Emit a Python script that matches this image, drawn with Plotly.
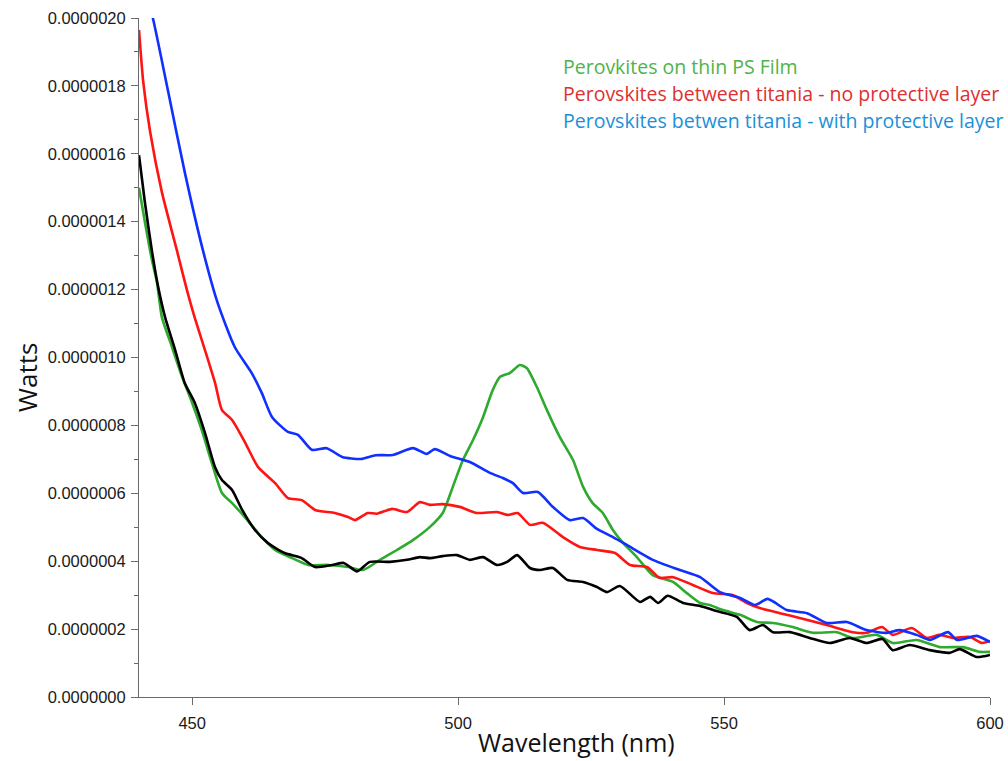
import plotly.graph_objects as go

# Spectral power, values in units of 1e-7 W
SCALE = 1e-7

green_nm = [440, 441.1, 442.4, 443.4, 444.3, 446.2, 448.1, 450.0, 451.8, 453.7, 455.6, 457.5,
            459.9, 462.4, 465.6, 468.8, 471.8, 475.5, 479.3, 482.1, 485.3, 488.5, 491.5, 494.7,
            497.1, 499.0, 500.9, 502.8, 504.7, 506.5, 507.9, 509.7, 511.6, 512.9, 514.8, 516.7,
            519.1, 521.6, 523.5, 525.3, 527.2, 529.1, 531.0, 533.6, 536.6, 540.4, 543.0, 545.5,
            547.3, 549.8, 553.0, 556.2, 559.2, 562.9, 566.7, 571.2, 574.2, 578.7, 581.7, 586.2,
            590.6, 594.9, 598.1, 600]
green_w = [15.0, 14.0, 12.9, 12.19, 11.19, 10.31, 9.43, 8.66, 7.86, 6.89, 6.01, 5.71,
           5.30, 4.83, 4.33, 4.09, 3.89, 3.89, 3.83, 3.74, 4.04, 4.33, 4.62, 5.01,
           5.42, 6.19, 6.98, 7.57, 8.25, 9.04, 9.43, 9.54, 9.78, 9.69, 9.13, 8.45,
           7.66, 6.98, 6.19, 5.71, 5.42, 4.92, 4.54, 4.12, 3.59, 3.39, 3.06, 2.77,
           2.71, 2.56, 2.42, 2.21, 2.18, 2.06, 1.89, 1.91, 1.74, 1.83, 1.59, 1.68,
           1.47, 1.47, 1.33, 1.33]

red_nm = [440, 440.8, 442.1, 444.3, 447.1, 449.0, 450.5, 452.4, 454.3, 455.6, 457.5, 459.9,
          462.4, 465.6, 468.0, 470.6, 473.1, 476.8, 479.3, 480.6, 483.0, 484.7, 487.6, 490.4,
          492.8, 494.7, 497.1, 500.3, 503.5, 507.3, 509.4, 511.2, 513.5, 515.9, 519.7, 522.9,
          526.1, 529.5, 532.3, 535.5, 537.9, 540.4, 544.1, 547.9, 551.7, 554.3, 556.7, 560.5,
          564.2, 569.3, 574.2, 576.8, 579.7, 581.7, 585.3, 588.1, 590.6, 593.0, 596.2, 598.5, 600]
red_w = [19.65, 18.11, 16.64, 14.87, 13.17, 11.99, 11.16, 10.22, 9.25, 8.45, 8.16, 7.51,
         6.77, 6.30, 5.86, 5.80, 5.51, 5.42, 5.30, 5.21, 5.42, 5.40, 5.54, 5.45,
         5.74, 5.66, 5.68, 5.60, 5.42, 5.45, 5.36, 5.42, 5.07, 5.13, 4.71, 4.42,
         4.33, 4.24, 3.89, 3.83, 3.51, 3.53, 3.30, 3.06, 3.00, 2.77, 2.62, 2.47,
         2.33, 2.12, 1.91, 1.89, 2.06, 1.83, 2.03, 1.74, 1.83, 1.74, 1.77, 1.59, 1.65]

blue_nm = [442.0, 442.6, 445.5, 448.6, 452.0, 454.8, 458.0, 461.2, 463.1, 465.0, 468.0, 469.9,
           472.5, 475.3, 478.2, 481.7, 484.5, 487.7, 491.5, 494.1, 495.6, 498.5, 502.2, 506.0,
           508.4, 510.3, 512.2, 515.0, 517.8, 521.0, 523.5, 526.1, 529.1, 531.7, 536.6, 541.7,
           545.5, 549.2, 553.0, 555.8, 558.2, 561.8, 565.6, 569.3, 573.1, 576.8, 580.6, 583.0,
           586.2, 588.7, 592.1, 593.8, 597.5, 600]
blue_w = [20.3, 20.0, 17.82, 15.46, 13.17, 11.6, 10.31, 9.54, 8.95, 8.25, 7.81, 7.72,
          7.28, 7.33, 7.07, 7.01, 7.12, 7.13, 7.33, 7.16, 7.30, 7.10, 6.92, 6.60,
          6.45, 6.30, 6.01, 6.04, 5.60, 5.21, 5.27, 4.95, 4.71, 4.48, 4.04, 3.74,
          3.53, 3.09, 2.92, 2.71, 2.89, 2.56, 2.47, 2.18, 2.21, 1.97, 1.89, 1.97,
          1.83, 1.68, 1.91, 1.68, 1.80, 1.62]

black_nm = [440, 441.1, 442.4, 443.6, 444.9, 446.8, 448.6, 450.5, 452.4, 454.3, 455.6, 457.5,
            459.4, 461.8, 464.2, 467.4, 470.6, 473.1, 476.3, 478.5, 481.0, 483.4, 487.2, 490.4,
            492.8, 494.7, 497.1, 499.8, 502.2, 504.7, 507.3, 509.2, 511.1, 513.5, 515.4, 517.8,
            520.5, 523.5, 526.1, 528.0, 530.4, 534.2, 536.1, 537.6, 539.4, 542.3, 545.5, 548.6,
            552.4, 554.8, 557.3, 559.2, 562.4, 566.1, 569.9, 573.6, 576.8, 579.8, 581.7, 584.9,
            588.7, 592.4, 594.3, 597.5, 600]
black_w = [15.96, 14.58, 13.17, 12.08, 11.19, 10.22, 9.25, 8.66, 7.78, 6.77, 6.39, 6.10,
           5.51, 4.92, 4.54, 4.24, 4.09, 3.83, 3.89, 3.95, 3.70, 3.98, 3.98, 4.04,
           4.12, 4.09, 4.15, 4.18, 4.04, 4.12, 3.89, 3.98, 4.18, 3.80, 3.74, 3.80,
           3.45, 3.39, 3.24, 3.09, 3.27, 2.80, 2.95, 2.77, 2.98, 2.77, 2.68, 2.53,
           2.36, 1.97, 2.12, 1.91, 1.91, 1.74, 1.59, 1.74, 1.59, 1.71, 1.38, 1.53,
           1.38, 1.30, 1.41, 1.18, 1.24]

y_ticks = [i * 2e-7 for i in range(11)]
x_ticks = [450, 500, 550, 600]

legend_lines = [
    ("Perovkites on thin PS Film", "#4fb34a"),
    ("Perovskites between titania - no protective layer", "#dd3030"),
    ("Perovskites betwen titania - with protective layer", "#1b90d8"),
]

series = [
    (green_nm, green_w, "#2eaa2e"),
    (red_nm, red_w, "#ff1414"),
    (blue_nm, blue_w, "#1030ff"),
    (black_nm, black_w, "#000000"),
]

fig = go.Figure()
for nm, w, color in series:
    fig.add_trace(go.Scatter(
        x=nm, y=[v * SCALE for v in w], mode="lines",
        line=dict(color=color, width=2.6, shape="spline", smoothing=0.6),
        showlegend=False, hoverinfo="skip",
    ))

X_RANGE = [440, 600]
Y_RANGE = [0, 2e-6]
AX_COLOR = "#6a6a6a"
TICK_FONT = dict(family="Liberation Sans, Arial, sans-serif", size=16.5, color="#1a1a1a")

fig.update_layout(
    width=1008, height=761,
    margin=dict(l=139, r=18, t=18, b=64),
    paper_bgcolor="white", plot_bgcolor="white",
    xaxis=dict(
        range=X_RANGE, tickvals=x_ticks, ticks="outside", ticklen=7, tickwidth=1,
        tickcolor=AX_COLOR, showline=True, linecolor=AX_COLOR, linewidth=1,
        showgrid=False, zeroline=False, tickfont=TICK_FONT, ticklabelstandoff=4,
        automargin=False,
    ),
    xaxis2=dict(
        range=X_RANGE, overlaying="x", anchor="y", side="bottom",
        tickvals=x_ticks, ticks="inside", ticklen=7, tickwidth=1, tickcolor=AX_COLOR,
        minor=dict(dtick=10, ticks="inside", ticklen=6, tickcolor=AX_COLOR, tickwidth=1),
        showticklabels=False, showgrid=False, zeroline=False, showline=False,
        automargin=False,
    ),
    yaxis=dict(
        range=Y_RANGE, tickvals=y_ticks, tickformat=".7f", ticks="outside", ticklen=7,
        tickwidth=1, tickcolor=AX_COLOR, showline=True, linecolor=AX_COLOR, linewidth=1,
        minor=dict(dtick=1e-7, ticks="outside", ticklen=4, tickcolor=AX_COLOR, tickwidth=1),
        showgrid=False, zeroline=False, tickfont=TICK_FONT, ticklabelstandoff=2,
        automargin=False,
    ),
    yaxis2=dict(
        range=Y_RANGE, overlaying="y", anchor="x", side="left",
        tickvals=y_ticks, ticks="inside", ticklen=7, tickwidth=1, tickcolor=AX_COLOR,
        showticklabels=False, showgrid=False, zeroline=False, showline=False,
        automargin=False,
    ),
)

TITLE_FAMILY = "Open Sans, Noto Sans, sans-serif"
fig.add_annotation(text="Wavelength (nm)", xref="paper", yref="paper",
                   x=(576 - 139) / 851, y=-(761 - 697) / 679, showarrow=False,
                   xanchor="center", yanchor="bottom",
                   font=dict(family=TITLE_FAMILY, size=25, color="#111111"))
fig.add_annotation(text="Watts", xref="paper", yref="paper", textangle=-90,
                   x=-(139 - 27) / 851, y=(697 - 378) / 679, showarrow=False,
                   xanchor="center", yanchor="middle",
                   font=dict(family=TITLE_FAMILY, size=26, color="#111111"))

for i, (label, color) in enumerate(legend_lines):
    fig.add_annotation(text=label, xref="paper", yref="paper",
                       x=(561 - 139) / 851, y=(697 - (67 + 26.5 * i)) / 679,
                       showarrow=False, xanchor="left", yanchor="middle",
                       font=dict(family=TITLE_FAMILY, size=19.5, color=color))

fig.write_html("out.html")
